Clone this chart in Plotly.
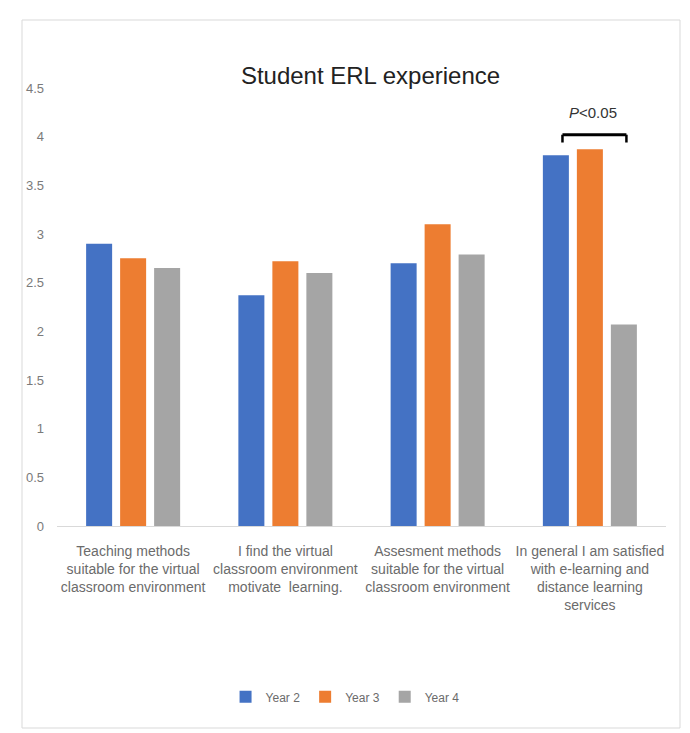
import plotly.graph_objects as go

categories = [
    "Teaching methods<br>suitable for the virtual<br>classroom environment",
    "I find the virtual<br>classroom environment<br>motivate  learning.",
    "Assesment methods<br>suitable for the virtual<br>classroom environment",
    "In general I am satisfied<br>with e-learning and<br>distance learning<br>services",
]
year2 = [2.90, 2.37, 2.70, 3.81]
year3 = [2.75, 2.72, 3.10, 3.87]
year4 = [2.65, 2.60, 2.79, 2.07]
series_names = ["Year 2", "Year 3", "Year 4"]
colors = ["#4472C4", "#ED7D31", "#A5A5A5"]
ytick_vals = [0, 0.5, 1, 1.5, 2, 2.5, 3, 3.5, 4, 4.5]

FONT = "Liberation Sans Narrow, Liberation Sans, Arial, sans-serif"

def f(size, color):
    return dict(family=FONT, size=size, color=color)

fig = go.Figure()
for name, vals, c in zip(series_names, [year2, year3, year4], colors):
    fig.add_trace(go.Bar(x=list(range(len(categories))), y=vals, name=name,
                         marker=dict(color=c, line=dict(width=0))))

fig.update_layout(
    width=690, height=733,
    margin=dict(l=57, r=24, t=88, b=207),
    paper_bgcolor="white", plot_bgcolor="white",
    barmode="group", bargap=0.33, bargroupgap=0.235,
    title=dict(text="Student ERL experience", x=0.537, xanchor="center",
               y=0.897, yanchor="middle", font=f(24, "#222222")),
    font=f(14, "#6b6b6b"),
    showlegend=True,
    legend=dict(orientation="h", x=0.473, xanchor="center", y=-0.39, yanchor="middle",
                font=f(12, "#6b6b6b"), itemwidth=30, traceorder="normal"),
    xaxis=dict(tickmode="array", tickvals=list(range(len(categories))), ticktext=categories,
               range=[-0.5, 3.5], showline=True, linecolor="#d9d9d9", linewidth=1,
               showgrid=False, ticks="", tickangle=0, tickfont=f(14, "#6b6b6b"),
               ticklabelstandoff=12),
    yaxis=dict(range=[0, 4.5], tickvals=ytick_vals, showgrid=False, zeroline=False,
               showline=False, ticks="", tickfont=f(13, "#7a7a7a"),
               ticklabelstandoff=12),
)

# significance bracket
fig.add_shape(type="line", x0=3 - 0.18, x1=3 + 0.24, y0=4.02, y1=4.02,
              line=dict(color="black", width=3), xref="x", yref="y")
fig.add_shape(type="line", x0=3 - 0.18, x1=3 - 0.18, y0=4.02, y1=3.94,
              line=dict(color="black", width=2.5), xref="x", yref="y")
fig.add_shape(type="line", x0=3 + 0.24, x1=3 + 0.24, y0=4.02, y1=3.94,
              line=dict(color="black", width=2.5), xref="x", yref="y")
fig.add_annotation(x=3 + 0.02, y=4.25, xref="x", yref="y", showarrow=False,
                   text="<i>P</i>&lt;0.05", font=f(15, "#333333"))

# outer frame
fig.add_shape(type="rect", xref="paper", yref="paper",
              x0=(22 - 57) / 609, x1=(680 - 57) / 609,
              y0=(526 - 728) / 438, y1=(526 - 20) / 438,
              line=dict(color="#d9d9d9", width=1), layer="below")

fig.write_html("out.html")
